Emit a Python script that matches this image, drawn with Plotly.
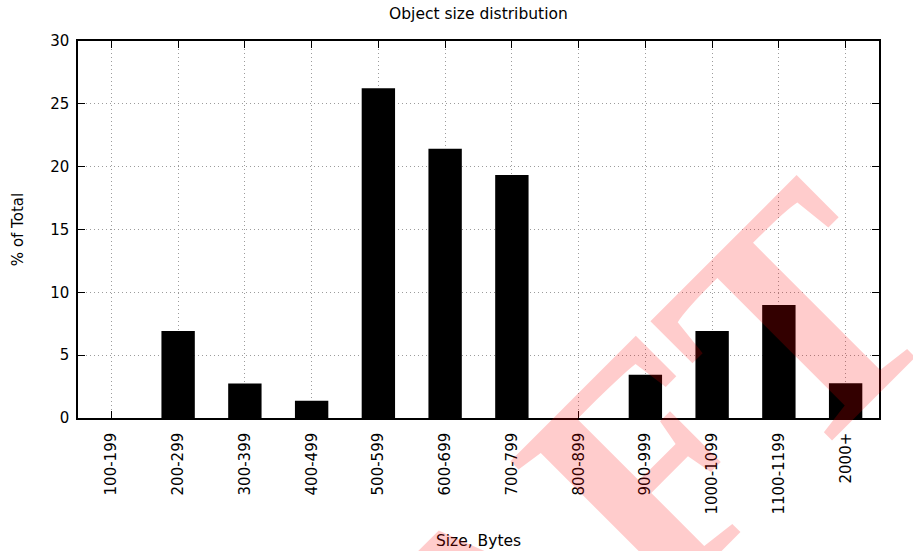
import plotly.graph_objects as go

categories = ["100-199", "200-299", "300-399", "400-499", "500-599", "600-699",
              "700-799", "800-899", "900-999", "1000-1099", "1100-1199", "2000+"]
percent = [0, 6.92, 2.75, 1.38, 26.25, 21.43, 19.33, 0, 3.45, 6.92, 9.0, 2.76]
y_ticks = [0, 5, 10, 15, 20, 25, 30]

FONT = "DejaVu Sans"
GRID = "#9c9c9c"

fig = go.Figure()
fig.add_trace(go.Bar(
    x=categories, y=percent, width=0.5,
    marker=dict(color="black", line=dict(width=0)),
    showlegend=False,
))

fig.update_layout(
    width=913, height=551,
    margin=dict(l=78, r=34, t=41, b=133, autoexpand=False),
    paper_bgcolor="white", plot_bgcolor="white",
    font=dict(family=FONT, size=15, color="black"),
    title=dict(text="Object size distribution", x=0.524, xanchor="center",
               y=0.975, yanchor="middle", font=dict(size=15.5)),
)
fig.update_xaxes(
    type="category", range=[-0.5, 11.5], automargin=False,
    showline=True, linecolor="black", linewidth=1.5, mirror="ticks",
    ticks="inside", ticklen=7, tickcolor="black", tickwidth=1,
    tickangle=-90, ticklabelstandoff=7, tickfont=dict(size=15),
    showgrid=True, gridcolor=GRID, griddash="1px,3px", gridwidth=1,
    title=dict(text="Size, Bytes", standoff=22, font=dict(size=15.5)),
)
fig.update_yaxes(
    range=[0, 30], tickvals=y_ticks, automargin=False,
    showline=True, linecolor="black", linewidth=1.5, mirror="ticks",
    ticks="inside", ticklen=7, tickcolor="black", tickwidth=1,
    ticklabelstandoff=4, tickfont=dict(size=15),
    showgrid=True, gridcolor=GRID, griddash="1px,3px", gridwidth=1,
    zeroline=False,
    title=dict(text="% of Total", standoff=23, font=dict(size=15)),
)

fig.add_annotation(
    text="DRAFT", xref="paper", yref="paper", x=0.498, y=-0.588,
    xanchor="center", yanchor="middle", showarrow=False, textangle=-45,
    font=dict(family="Liberation Serif", size=325, color="rgba(255,0,0,0.2)", weight="bold"),
)

fig.write_html("out.html", config={"displayModeBar": False},
               post_script="document.body.style.margin='0';")
